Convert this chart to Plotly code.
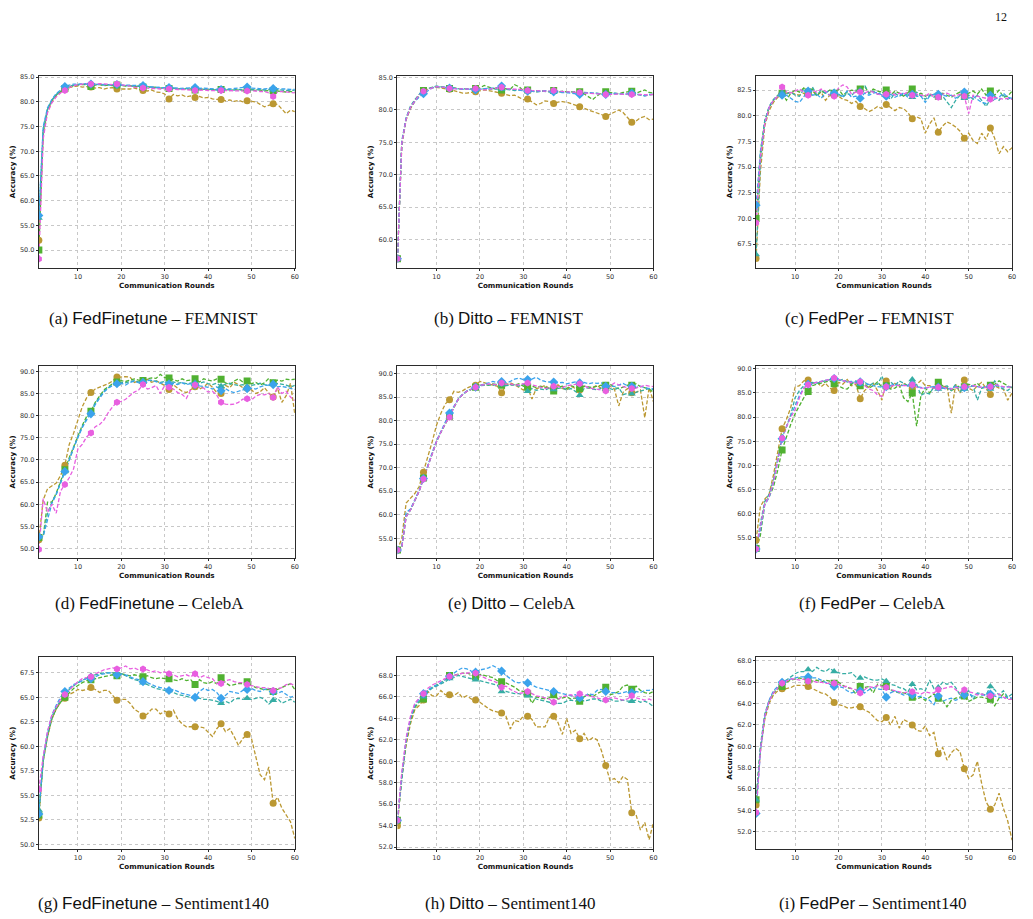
import plotly.graph_objects as go

rounds = list(range(1, 61))
x_ticks = [10, 20, 30, 40, 50, 60]

series_names = ["Method 1", "Method 2", "Method 3", "Method 4", "Method 5"]
series_colors = ["#bb9832", "#50b131", "#36ada4", "#3ba3ec", "#e85fe0"]
series_symbols = ["circle", "square", "triangle-up", "diamond", "hexagon"]

captions = [
    ("(a) ", "FedFinetune", " – FEMNIST"),
    ("(b) ", "Ditto", " – FEMNIST"),
    ("(c) ", "FedPer", " – FEMNIST"),
    ("(d) ", "FedFinetune", " – CelebA"),
    ("(e) ", "Ditto", " – CelebA"),
    ("(f) ", "FedPer", " – CelebA"),
    ("(g) ", "FedFinetune", " – Sentiment140"),
    ("(h) ", "Ditto", " – Sentiment140"),
    ("(i) ", "FedPer", " – Sentiment140"),
]

y_ranges = [[46.4, 85.3], [55.6, 85.3], [65.2, 83.9],
            [48.0, 91.1], [50.9, 91.5], [50.9, 90.5],
            [49.5, 69.1], [51.8, 69.7], [50.35, 68.35]]
y_dticks = [5, 5, 2.5, 5, 5, 5, 2.5, 2, 2]

# ---------------- (a) FedFinetune - FEMNIST ----------------
a_gold = [52.0, 73.0, 78.0, 80.0, 81.2, 82.0, 82.5, 82.9, 83.1, 83.2,
          83.0, 83.1, 83.0, 82.8, 82.9, 82.6, 82.8, 82.9, 82.6, 82.6,
          82.7, 82.6, 82.8, 82.5, 82.3, 82.2, 82.4, 82.0, 81.9, 81.6,
          80.6, 81.5, 81.2, 81.4, 81.0, 81.2, 80.9, 81.1, 80.8, 80.9,
          80.6, 80.5, 80.5, 80.2, 80.4, 80.1, 80.3, 80.0, 80.2, 80.1,
          80.0, 79.5, 79.0, 79.3, 79.6, 79.5, 78.6, 77.6, 78.3, 78.0]
a_green = [50.0, 74.0, 78.5, 80.3, 81.4, 82.1, 82.7, 83.1, 83.3, 83.4,
           83.5, 83.5, 83.1, 83.4, 83.5, 83.3, 83.4, 83.3, 83.4, 83.3,
           83.2, 83.3, 83.1, 83.2, 83.0, 83.1, 82.9, 83.0, 82.8, 82.9,
           82.7, 82.8, 82.6, 82.7, 82.5, 82.6, 82.4, 82.5, 82.6, 82.4,
           82.5, 82.3, 82.5, 82.4, 82.3, 82.5, 82.4, 82.3, 82.5, 82.4,
           82.3, 82.4, 82.2, 82.3, 82.3, 82.2, 82.1, 82.0, 82.1, 81.9]
a_teal = [56.5, 74.5, 78.5, 80.3, 81.5, 82.2, 82.8, 83.2, 83.4, 83.5,
          83.6, 83.6, 83.5, 83.6, 83.5, 83.4, 83.5, 83.4, 83.4, 83.3,
          83.3, 83.2, 83.2, 83.1, 83.1, 83.0, 82.9, 82.9, 82.8, 82.8,
          82.8, 82.7, 82.7, 82.6, 82.7, 82.6, 82.6, 82.5, 82.6, 82.5,
          82.5, 82.4, 82.5, 82.4, 82.5, 82.4, 82.5, 82.4, 82.6, 82.5,
          82.4, 82.5, 82.4, 82.5, 82.4, 82.5, 82.4, 82.3, 82.4, 82.3]
a_blue = [57.0, 75.0, 78.8, 80.5, 81.7, 82.5, 83.1, 83.4, 83.6, 83.6,
          83.7, 83.7, 83.6, 83.6, 83.5, 83.5, 83.4, 83.5, 83.5, 83.4,
          83.4, 83.3, 83.3, 83.3, 83.3, 83.1, 83.0, 83.0, 82.9, 82.9,
          82.9, 82.8, 82.8, 82.7, 82.8, 82.8, 82.9, 82.7, 82.8, 82.7,
          82.6, 82.6, 82.5, 82.7, 82.6, 82.7, 82.8, 82.8, 83.0, 82.8,
          82.7, 82.7, 82.6, 82.7, 82.7, 82.7, 82.6, 82.6, 82.5, 82.5]
a_magenta = [48.2, 72.5, 77.8, 79.8, 81.0, 81.8, 82.3, 82.9, 83.3, 83.5,
             83.6, 83.7, 83.6, 83.6, 83.7, 83.6, 83.6, 83.5, 83.6, 83.5,
             83.3, 83.2, 83.0, 82.9, 82.8, 82.8, 82.7, 82.7, 82.6, 82.7,
             82.6, 82.6, 82.5, 82.5, 82.5, 82.4, 82.3, 82.4, 82.4, 82.3,
             82.3, 82.2, 82.3, 82.3, 82.2, 82.3, 82.2, 82.2, 82.2, 82.2,
             82.2, 82.1, 82.1, 81.8, 81.1, 82.0, 82.1, 82.0, 81.9, 81.8]

# ---------------- (b) Ditto - FEMNIST ----------------
b_gold = [57.0, 74.5, 78.5, 80.2, 81.3, 82.2, 82.8, 83.2, 83.4, 83.5,
          83.4, 83.3, 83.2, 83.0, 82.8, 82.6, 82.6, 82.7, 82.8, 82.9,
          83.1, 83.0, 82.9, 82.8, 82.6, 82.4, 82.2, 82.3, 82.0, 81.6,
          81.7, 81.3, 80.8, 81.0, 81.4, 81.3, 81.0, 81.2, 81.3, 81.2,
          81.0, 80.8, 80.5, 80.3, 80.0, 79.8, 79.6, 79.3, 79.0, 79.3,
          79.7, 80.0, 79.6, 78.9, 78.1, 78.3, 78.8, 79.0, 78.5, 78.6]
b_green = [57.0, 75.0, 78.6, 80.4, 81.4, 82.4, 83.0, 83.3, 83.5, 83.6,
           83.6, 83.5, 83.3, 83.4, 83.3, 83.2, 83.3, 83.2, 83.3, 83.4,
           83.8, 83.5, 83.3, 83.4, 83.1, 83.3, 83.2, 83.9, 83.6, 83.0,
           83.1, 82.9, 82.8, 82.9, 83.0, 82.8, 83.0, 82.7, 82.9, 82.8,
           82.8, 82.7, 82.8, 82.5, 82.1, 81.6, 82.2, 82.6, 82.8, 82.7,
           82.6, 82.5, 82.7, 82.8, 82.9, 82.6, 82.8, 83.1, 82.7, 82.6]
b_teal = [57.0, 75.2, 78.8, 80.6, 81.6, 82.4, 82.9, 83.3, 83.5, 83.7,
          83.6, 83.5, 83.4, 83.4, 83.3, 83.3, 83.3, 83.2, 83.2, 83.3,
          83.3, 83.2, 83.2, 83.3, 83.2, 83.2, 83.1, 83.0, 83.1, 83.0,
          83.0, 82.9, 83.0, 82.9, 82.9, 82.8, 82.8, 82.9, 82.8, 82.7,
          82.8, 82.7, 82.6, 82.7, 82.6, 82.6, 82.6, 82.5, 82.6, 82.5,
          82.5, 82.5, 82.5, 82.4, 82.5, 82.4, 82.3, 82.2, 82.3, 82.4]
b_blue = [57.0, 75.0, 78.7, 80.4, 81.3, 82.0, 82.5, 83.0, 83.4, 83.6,
          83.6, 83.5, 83.4, 83.3, 83.3, 83.2, 83.2, 83.2, 83.1, 83.2,
          83.3, 83.3, 83.4, 83.5, 83.7, 83.3, 83.2, 83.1, 83.1, 83.0,
          82.9, 82.9, 82.8, 82.9, 83.0, 82.9, 82.8, 82.8, 82.7, 82.7,
          82.6, 82.5, 82.4, 82.6, 82.7, 82.6, 82.5, 82.4, 82.4, 82.5,
          82.6, 82.5, 82.4, 82.5, 82.6, 82.5, 82.3, 82.2, 82.4, 82.4]
b_magenta = [57.0, 74.8, 78.6, 80.4, 81.4, 82.3, 82.9, 83.2, 83.4, 83.6,
             83.6, 83.5, 83.3, 83.3, 83.3, 83.2, 83.3, 83.3, 83.3, 83.2,
             83.1, 83.2, 83.3, 83.4, 83.5, 83.3, 83.2, 83.2, 83.2, 83.1,
             83.0, 83.0, 83.0, 82.9, 82.9, 82.9, 83.0, 82.9, 82.8, 82.8,
             82.8, 82.7, 82.7, 82.6, 82.6, 82.5, 82.5, 82.5, 82.4, 82.4,
             82.4, 82.5, 82.4, 82.5, 82.4, 82.3, 82.4, 82.3, 82.3, 82.4]

# ---------------- (c) FedPer - FEMNIST ----------------
c_gold = [66.1, 74.5, 79.0, 80.5, 81.3, 81.8, 82.1, 82.2, 82.3, 82.1,
          82.0, 82.2, 82.1, 82.4, 82.0, 82.3, 81.5, 82.0, 82.0, 81.9,
          81.6, 81.5, 81.2, 81.4, 80.9, 80.7, 80.4, 80.6, 80.9, 80.7,
          81.1, 80.8, 80.5, 80.8, 80.7, 80.3, 79.7, 79.9, 79.7, 78.3,
          79.2, 79.8, 78.4, 79.0, 79.4, 79.2, 78.9, 78.5, 77.8, 78.3,
          77.6, 77.3, 78.3, 77.7, 78.8, 77.8, 76.3, 77.0, 76.5, 76.9]
c_green = [70.0, 76.5, 79.5, 80.8, 81.5, 82.0, 82.2, 81.5, 82.2, 82.5,
           82.3, 82.7, 82.3, 82.6, 81.9, 82.4, 82.2, 82.5, 82.2, 82.6,
           82.0, 82.3, 82.5, 82.4, 82.6, 82.9, 82.2, 82.6, 82.4, 82.3,
           82.5, 82.0, 82.4, 82.2, 81.9, 82.3, 82.6, 82.0, 82.2, 81.9,
           82.1, 82.0, 81.9, 82.2, 82.0, 81.8, 82.1, 82.3, 82.0, 82.2,
           82.4, 82.1, 82.6, 82.0, 82.4, 82.0, 82.5, 81.8, 81.9, 82.4]
c_teal = [66.5, 75.5, 79.5, 80.9, 81.6, 82.0, 82.3, 82.1, 82.3, 82.0,
          81.9, 82.6, 82.2, 82.8, 82.0, 82.5, 82.2, 82.0, 82.3, 82.1,
          81.8, 82.2, 81.9, 82.5, 82.5, 83.0, 82.2, 82.4, 82.1, 82.3,
          82.0, 81.6, 82.2, 81.9, 82.1, 82.0, 81.8, 82.3, 81.9, 81.6,
          82.0, 81.8, 82.1, 81.9, 81.4, 80.8, 81.5, 82.0, 81.7, 82.0,
          81.6, 82.0, 81.5, 80.9, 81.6, 81.9, 81.5, 82.0, 81.6, 81.8]
c_blue = [71.3, 76.5, 79.3, 80.8, 81.5, 81.9, 82.0, 82.0, 81.7, 81.4,
          81.3, 81.8, 82.4, 82.0, 82.1, 81.7, 82.2, 82.5, 82.2, 82.0,
          81.9, 82.4, 81.8, 81.9, 81.7, 82.2, 82.0, 82.2, 82.3, 82.0,
          81.9, 82.1, 81.8, 82.0, 82.2, 81.8, 82.1, 81.9, 81.9, 81.3,
          81.9, 82.1, 82.1, 82.0, 81.9, 82.0, 81.7, 82.0, 82.3, 81.7,
          81.9, 81.6, 81.3, 81.2, 82.0, 81.6, 81.8, 82.2, 81.8, 81.7]
c_magenta = [69.6, 76.0, 79.2, 80.8, 81.5, 81.9, 82.8, 82.3, 82.2, 82.4,
             82.6, 82.3, 82.0, 82.5, 82.3, 82.6, 82.4, 82.0, 81.9, 82.7,
             83.0, 82.8, 82.1, 82.3, 82.3, 82.2, 82.4, 82.3, 82.1, 82.0,
             82.1, 82.3, 82.0, 82.2, 82.1, 82.3, 82.0, 82.1, 82.0, 81.9,
             82.2, 81.8, 81.8, 82.1, 82.2, 82.0, 81.9, 82.1, 81.9, 80.2,
             82.0, 81.9, 81.8, 81.7, 81.6, 81.8, 81.7, 81.6, 81.7, 81.6]

# ---------------- (d) FedFinetune - CelebA ----------------
d_gold = [52.0, 61.0, 63.5, 64.2, 64.8, 66.5, 68.8, 73.5, 76.0, 79.0,
          82.0, 84.0, 85.2, 86.0, 86.4, 86.8, 87.2, 87.8, 88.7, 88.7,
          88.8, 88.7, 87.5, 87.8, 87.8, 88.2, 87.5, 87.9, 87.3, 86.8,
          85.9, 87.0, 86.2, 85.5, 85.2, 85.9, 86.5, 86.0, 86.5, 87.3,
          86.4, 85.2, 85.0, 86.8, 86.3, 87.5, 87.0, 86.3, 86.2, 85.8,
          85.0, 85.4, 86.3, 85.1, 84.2, 86.2, 83.0, 84.5, 87.3, 80.3]
d_green = [52.5, 52.7, 60.5, 60.5, 62.5, 65.0, 67.8, 70.5, 73.0, 75.5,
           77.8, 79.8, 81.0, 83.0, 84.5, 85.8, 86.5, 87.2, 87.6, 87.9,
           87.7, 88.0, 88.3, 88.0, 87.9, 88.3, 88.5, 88.4, 89.3, 88.6,
           88.5, 88.1, 87.8, 88.3, 87.9, 88.0, 88.3, 87.6, 88.3, 88.0,
           87.8, 88.3, 88.2, 87.4, 87.0, 87.8, 88.3, 87.6, 87.8, 87.2,
           87.5, 86.9, 87.4, 88.4, 87.4, 88.0, 87.8, 88.2, 88.1, 88.2]
d_teal = [52.6, 52.9, 58.0, 60.5, 62.3, 64.9, 67.6, 70.2, 72.9, 75.2,
          77.5, 79.3, 80.8, 82.8, 84.2, 85.5, 86.3, 86.9, 87.3, 87.5,
          87.4, 87.7, 87.9, 87.6, 87.7, 88.0, 87.9, 87.8, 87.5, 87.7,
          87.4, 87.6, 87.3, 87.5, 87.2, 87.4, 87.5, 87.3, 87.6, 87.2,
          87.0, 87.3, 86.6, 87.1, 87.3, 87.0, 86.8, 87.0, 86.5, 86.8,
          87.1, 87.3, 87.0, 86.8, 87.4, 87.2, 87.0, 86.9, 86.5, 86.8]
d_blue = [52.7, 52.8, 56.5, 60.2, 62.2, 64.7, 67.4, 70.0, 72.8, 75.0,
          77.3, 79.0, 80.4, 82.5, 84.0, 85.3, 86.2, 86.8, 87.2, 87.3,
          86.9, 87.5, 87.8, 87.4, 87.5, 87.9, 88.0, 87.7, 87.3, 87.6,
          87.1, 87.3, 87.0, 87.4, 87.0, 87.2, 86.9, 86.7, 86.6, 86.4,
          86.0, 86.5, 85.6, 86.1, 85.5, 85.2, 85.5, 85.8, 86.1, 86.2,
          86.0, 86.5, 86.8, 86.9, 87.0, 86.5, 86.6, 86.4, 86.2, 85.9]
d_magenta = [49.8, 61.3, 58.2, 60.0, 58.0, 63.0, 64.5, 66.0, 68.0, 72.5,
             73.5, 75.2, 76.1, 77.5, 78.0, 79.0, 80.7, 82.0, 83.0, 83.2,
             83.7, 84.5, 85.3, 85.8, 87.0, 86.0, 86.3, 86.8, 85.0, 86.8,
             86.4, 86.0, 85.2, 84.8, 83.9, 85.8, 86.9, 86.3, 86.2, 85.3,
             85.5, 84.6, 83.0, 82.6, 82.5, 82.6, 83.0, 83.7, 83.8, 83.5,
             84.4, 84.8, 84.7, 85.0, 84.1, 86.5, 85.0, 85.5, 84.2, 83.4]

# ---------------- (e) Ditto - CelebA ----------------
e_gold = [52.5, 55.0, 62.5, 63.5, 64.5, 66.0, 69.0, 72.0, 75.5, 79.0,
          81.5, 83.5, 84.4, 86.2, 86.0, 86.3, 86.9, 87.3, 87.5, 88.3,
          88.0, 87.8, 87.5, 87.3, 85.9, 87.5, 88.0, 87.6, 87.0, 86.5,
          87.0, 84.6, 86.8, 87.0, 87.5, 86.8, 87.0, 87.6, 86.8, 86.5,
          87.3, 86.8, 86.5, 87.3, 86.9, 87.0, 87.5, 86.8, 86.6, 87.3,
          86.7, 83.1, 86.0, 86.8, 85.9, 86.0, 86.5, 80.6, 87.0, 84.0]
e_green = [52.5, 53.0, 59.8, 61.0, 63.0, 65.0, 67.8, 70.5, 73.0, 75.5,
           77.5, 79.3, 80.9, 82.8, 84.5, 85.5, 86.2, 86.6, 87.1, 87.5,
           87.7, 87.5, 87.8, 87.6, 87.5, 87.8, 87.6, 87.5, 87.8, 87.3,
           87.1, 87.3, 87.0, 87.3, 87.1, 86.9, 86.3, 87.0, 87.3, 86.8,
           87.4, 87.1, 86.8, 87.3, 87.1, 87.0, 87.3, 87.5, 87.5, 87.8,
           87.0, 86.8, 87.1, 87.5, 87.5, 87.8, 87.2, 87.0, 86.7, 86.0]
e_teal = [52.5, 53.0, 59.5, 61.0, 63.0, 65.0, 67.7, 70.4, 73.0, 75.5,
          77.5, 79.3, 80.8, 82.8, 84.5, 85.5, 86.2, 86.6, 87.0, 87.4,
          87.5, 87.6, 87.5, 87.7, 87.6, 87.4, 87.5, 87.6, 87.3, 87.8,
          86.2, 86.8, 86.4, 86.7, 86.5, 86.9, 86.6, 86.8, 87.0, 86.5,
          86.8, 86.2, 85.4, 86.8, 87.0, 86.7, 86.5, 86.9, 86.7, 86.8,
          86.5, 87.0, 85.5, 85.8, 85.7, 86.0, 86.3, 86.5, 86.8, 86.5]
e_blue = [52.5, 53.2, 60.5, 61.2, 63.2, 65.2, 67.7, 70.6, 73.2, 75.7,
          77.8, 79.7, 81.6, 83.0, 84.6, 85.6, 86.3, 86.7, 87.1, 87.5,
          87.8, 88.0, 88.3, 88.0, 88.3, 88.0, 88.3, 88.8, 89.0, 88.7,
          88.7, 88.8, 89.2, 88.6, 88.3, 88.2, 88.2, 88.0, 88.1, 87.8,
          88.0, 88.2, 88.0, 88.1, 87.8, 88.0, 87.9, 88.0, 87.3, 87.5,
          87.2, 87.6, 87.9, 87.4, 87.3, 87.0, 87.3, 87.0, 86.8, 86.8]
e_magenta = [52.5, 53.0, 59.6, 61.0, 63.0, 65.0, 67.6, 70.4, 73.0, 75.5,
             77.5, 79.3, 80.7, 82.8, 84.5, 85.5, 86.2, 86.6, 87.1, 87.5,
             87.6, 87.8, 87.7, 87.6, 88.0, 87.7, 87.8, 87.5, 87.6, 87.8,
             88.0, 87.6, 87.3, 87.0, 86.8, 87.0, 87.3, 87.2, 87.0, 87.4,
             87.5, 87.7, 87.8, 87.4, 87.0, 86.8, 86.6, 86.5, 86.3, 87.3,
             88.0, 87.6, 87.2, 87.0, 86.8, 86.9, 87.2, 87.5, 87.3, 87.2]

# ---------------- (f) FedPer - CelebA ----------------
f_gold = [54.5, 61.5, 63.0, 64.0, 68.0, 73.0, 77.6, 79.5, 82.0, 86.2,
          86.5, 87.5, 87.7, 87.0, 87.3, 86.3, 87.0, 86.0, 85.5, 87.2,
          86.8, 87.8, 86.5, 86.8, 83.8, 85.5, 86.2, 87.0, 85.5, 83.5,
          87.5, 86.0, 87.0, 86.3, 87.0, 86.5, 86.0, 86.8, 87.6, 86.5,
          86.5, 86.0, 86.8, 86.2, 86.5, 80.8, 86.8, 85.0, 87.7, 86.0,
          85.5, 86.5, 87.2, 86.0, 84.7, 86.5, 86.0, 85.8, 83.5, 85.0]
f_green = [52.8, 55.5, 62.0, 63.5, 65.5, 69.0, 73.2, 76.0, 78.5, 80.7,
           82.5, 84.0, 85.3, 86.5, 86.8, 87.0, 87.3, 87.5, 86.9, 86.5,
           86.0, 85.8, 86.8, 87.3, 86.5, 86.8, 86.0, 86.5, 87.3, 86.2,
           86.5, 85.8, 86.0, 86.7, 84.0, 83.2, 85.0, 78.1, 84.5, 86.0,
           85.0, 86.3, 87.2, 86.5, 86.0, 85.5, 86.0, 86.5, 86.3, 86.8,
           86.5, 87.0, 86.0, 86.2, 86.6, 86.8, 87.5, 87.0, 86.5, 86.0]
f_teal = [52.5, 58.0, 62.5, 64.0, 67.0, 71.5, 75.8, 78.0, 80.5, 84.0,
          85.5, 86.5, 87.0, 87.2, 87.0, 87.3, 87.5, 87.7, 88.0, 87.5,
          87.8, 87.3, 87.0, 87.5, 86.8, 87.3, 86.5, 87.0, 86.8, 88.5,
          86.3, 87.3, 86.5, 87.5, 87.0, 86.5, 87.8, 86.8, 84.5, 85.0,
          84.8, 86.3, 85.8, 86.0, 86.5, 85.5, 86.8, 85.3, 85.8, 86.2,
          86.5, 83.5, 86.0, 86.5, 85.8, 87.5, 86.3, 85.8, 85.5, 86.3]
f_blue = [52.7, 56.5, 61.8, 63.3, 66.3, 71.0, 75.5, 78.0, 80.2, 82.5,
          84.5, 86.0, 86.8, 87.0, 87.2, 87.3, 87.5, 87.8, 88.0, 87.7,
          87.5, 87.3, 87.4, 87.2, 87.3, 87.0, 86.8, 86.5, 86.3, 86.2,
          86.3, 86.6, 86.8, 86.5, 86.6, 86.4, 86.7, 86.3, 86.2, 86.0,
          86.2, 86.3, 86.2, 86.0, 85.8, 86.0, 86.3, 86.2, 86.1, 86.4,
          86.5, 86.3, 86.1, 86.2, 86.3, 86.5, 86.4, 86.2, 86.3, 86.3]
f_magenta = [52.7, 57.0, 62.0, 63.5, 66.5, 71.0, 75.6, 78.0, 80.0, 81.5,
             84.0, 86.0, 86.7, 87.0, 87.2, 87.4, 87.5, 87.8, 88.1, 87.8,
             87.5, 87.3, 87.2, 87.0, 87.3, 86.5, 85.8, 85.5, 84.6, 84.3,
             86.3, 86.4, 86.6, 86.5, 86.5, 86.5, 86.7, 86.2, 86.0, 86.0,
             86.2, 86.0, 86.2, 86.2, 86.0, 85.8, 86.2, 86.0, 86.3, 86.2,
             86.5, 86.3, 86.2, 86.1, 86.3, 86.8, 86.5, 86.3, 86.2, 86.3]

# ---------------- (g) FedFinetune - Sentiment140 ----------------
g_gold = [52.7, 58.5, 61.0, 62.8, 63.8, 64.5, 64.9, 65.3, 65.5, 65.8,
          65.7, 65.8, 66.0, 65.8, 65.5, 65.7, 65.7, 65.2, 64.7, 64.8,
          64.8, 64.4, 63.8, 63.5, 63.1, 63.3, 63.8, 63.8, 63.3, 63.6,
          63.3, 63.7, 62.8, 62.3, 62.0, 62.0, 62.0, 62.0, 61.9, 61.4,
          61.0, 61.8, 62.3, 61.5, 61.8, 61.0, 60.1, 60.8, 61.2, 60.8,
          58.8, 57.1, 56.6, 57.9, 54.2, 54.8, 53.7, 53.0, 52.3, 50.6]
g_green = [53.0, 58.5, 61.0, 62.8, 63.8, 64.5, 65.0, 65.5, 65.9, 66.2,
           66.5, 66.7, 66.8, 66.9, 67.0, 67.1, 67.2, 67.3, 67.2, 67.4,
           67.3, 67.2, 67.3, 67.2, 67.1, 67.2, 67.0, 66.9, 67.0, 66.9,
           66.9, 66.8, 66.7, 66.9, 66.7, 66.8, 66.3, 66.8, 66.5, 66.4,
           66.6, 66.4, 67.0, 66.5, 66.2, 66.3, 66.4, 66.4, 66.6, 66.2,
           66.0, 65.9, 65.8, 65.8, 65.6, 65.8, 66.0, 66.2, 66.4, 65.8]
g_teal = [53.5, 58.5, 61.2, 63.0, 64.0, 64.7, 65.3, 65.8, 66.2, 66.5,
          66.7, 67.0, 67.2, 67.3, 67.4, 67.5, 67.5, 67.5, 67.4, 67.4,
          67.2, 67.0, 66.8, 66.7, 66.5, 66.3, 66.1, 65.9, 65.8, 65.7,
          65.7, 65.5, 65.3, 65.2, 65.1, 65.0, 65.0, 64.9, 64.8, 64.8,
          64.7, 64.6, 64.4, 64.6, 64.4, 64.8, 64.9, 64.8, 64.9, 64.8,
          64.9, 65.0, 64.8, 64.3, 64.7, 64.9, 64.4, 64.6, 64.8, 64.5]
g_blue = [53.1, 58.8, 61.5, 63.2, 64.2, 65.0, 65.6, 66.0, 66.3, 66.5,
          66.7, 66.9, 66.9, 67.1, 67.3, 67.4, 67.5, 67.5, 67.3, 67.4,
          67.3, 67.1, 66.9, 66.8, 66.6, 66.5, 66.3, 66.1, 66.0, 65.9,
          65.7, 65.8, 65.6, 65.4, 65.3, 65.2, 65.0, 65.6, 65.9, 65.7,
          65.8, 65.5, 64.9, 65.2, 65.6, 65.5, 65.4, 65.7, 65.8, 65.9,
          65.7, 65.6, 65.8, 65.9, 65.6, 65.4, 65.6, 65.3, 65.0, 65.2]
g_magenta = [55.6, 59.0, 61.5, 63.2, 64.0, 64.8, 65.3, 65.8, 66.2, 66.6,
             66.9, 67.0, 67.1, 67.4, 67.6, 67.8, 67.9, 68.0, 67.9, 68.0,
             68.2, 67.9, 68.0, 67.8, 67.9, 67.8, 67.6, 67.7, 67.5, 67.6,
             67.4, 67.3, 67.1, 67.2, 67.3, 67.1, 67.4, 67.0, 67.2, 67.0,
             66.9, 66.4, 66.4, 66.7, 66.8, 66.6, 66.5, 66.5, 66.3, 66.2,
             66.1, 66.0, 66.0, 65.9, 65.7, 65.9, 66.0, 66.3, 66.4, 66.2]

# ---------------- (h) Ditto - Sentiment140 ----------------
h_gold = [54.0, 58.5, 61.5, 63.5, 64.8, 65.2, 65.7, 66.5, 66.1, 66.1,
          66.6, 66.2, 66.2, 66.1, 66.4, 65.9, 66.1, 65.8, 65.7, 65.5,
          65.2, 64.9, 64.7, 64.6, 64.5, 64.2, 63.0, 63.8, 63.7, 64.2,
          64.2, 63.9, 63.2, 63.2, 63.2, 64.1, 64.2, 63.6, 62.5, 64.0,
          62.6, 62.9, 62.1, 62.6, 61.9, 62.2, 62.0, 61.0, 59.6, 58.2,
          58.4, 58.0, 58.6, 58.3, 55.2, 55.0, 53.6, 54.3, 52.7, 54.3]
h_green = [54.5, 58.5, 61.8, 63.8, 65.0, 65.5, 65.8, 66.6, 66.9, 67.1,
           67.3, 67.6, 68.0, 68.0, 68.1, 68.2, 68.2, 68.1, 67.9, 68.1,
           68.0, 67.9, 67.8, 67.5, 67.4, 67.3, 67.1, 66.9, 66.6, 66.5,
           66.3, 65.4, 66.0, 65.9, 65.8, 65.9, 66.2, 65.8, 65.9, 66.0,
           65.8, 65.9, 65.6, 66.0, 66.2, 66.0, 66.3, 66.5, 66.9, 66.2,
           66.3, 66.5, 67.0, 67.1, 66.7, 67.0, 66.6, 66.4, 66.3, 66.5]
h_teal = [54.5, 58.6, 62.0, 64.0, 65.1, 65.6, 66.0, 66.5, 66.8, 67.0,
          67.2, 67.4, 67.7, 67.8, 68.0, 67.9, 67.8, 67.7, 67.6, 67.5,
          67.4, 67.3, 67.2, 67.1, 66.5, 66.5, 66.4, 66.3, 66.3, 66.2,
          66.1, 66.0, 65.8, 65.7, 65.6, 65.5, 65.5, 65.4, 65.4, 65.6,
          65.7, 65.6, 65.8, 65.6, 65.7, 65.8, 65.8, 65.6, 65.7, 65.8,
          65.6, 65.6, 65.7, 65.6, 65.6, 65.7, 65.5, 65.6, 65.4, 65.1]
h_blue = [54.5, 58.8, 62.0, 64.0, 65.3, 65.8, 66.3, 66.6, 66.9, 67.1,
          67.3, 67.6, 67.9, 68.2, 68.5, 68.7, 68.6, 68.4, 68.3, 68.5,
          68.6, 68.7, 68.9, 68.7, 68.4, 68.0, 67.7, 67.4, 67.3, 67.4,
          67.3, 67.1, 66.9, 66.8, 66.7, 66.6, 66.5, 66.4, 66.3, 66.2,
          66.1, 66.2, 65.9, 66.0, 66.3, 66.2, 66.6, 66.7, 66.5, 66.4,
          66.4, 66.3, 66.4, 66.5, 66.4, 66.5, 66.4, 66.6, 66.6, 66.7]
h_magenta = [54.5, 59.0, 62.2, 64.2, 65.4, 65.9, 66.3, 66.8, 67.1, 67.3,
             67.5, 67.7, 67.9, 68.0, 68.1, 68.2, 68.2, 68.3, 68.2, 68.0,
             67.8, 67.6, 67.5, 67.3, 66.9, 67.0, 66.7, 66.5, 66.3, 66.4,
             66.5, 66.3, 66.1, 66.0, 65.9, 65.8, 65.5, 65.8, 66.0, 66.1,
             66.2, 66.0, 66.3, 66.2, 66.1, 66.0, 65.9, 65.8, 65.7, 65.9,
             65.9, 65.8, 65.7, 65.8, 66.1, 65.9, 65.8, 65.7, 65.8, 65.6]

# ---------------- (i) FedPer - Sentiment140 ----------------
i_gold = [54.5, 59.5, 62.5, 64.0, 64.8, 65.2, 65.4, 65.4, 65.5, 65.7,
          65.7, 65.7, 65.6, 65.4, 65.2, 65.0, 64.9, 64.6, 64.1, 63.9,
          63.8, 63.6, 63.6, 63.7, 63.7, 63.4, 63.2, 62.8, 62.4, 62.3,
          62.7, 62.0, 62.8, 61.7, 62.5, 62.3, 62.0, 61.5, 61.4, 61.9,
          61.0, 61.3, 59.3, 59.9, 58.7, 59.4, 59.8, 59.5, 57.9, 57.0,
          57.3, 58.6, 56.5, 54.8, 54.1, 54.5, 55.6, 54.2, 53.0, 51.2]
i_green = [55.0, 59.8, 62.8, 64.2, 65.0, 65.4, 65.6, 66.0, 66.2, 66.3,
           66.4, 66.3, 66.2, 66.1, 66.2, 66.0, 66.2, 66.1, 65.9, 66.0,
           65.7, 65.5, 65.4, 64.9, 65.6, 65.5, 65.6, 65.0, 65.8, 65.7,
           65.6, 65.3, 65.1, 65.0, 65.0, 64.9, 64.6, 64.4, 64.6, 64.3,
           64.6, 64.9, 64.5, 64.3, 63.7, 64.3, 64.5, 64.6, 64.7, 64.2,
           64.4, 64.6, 64.6, 64.5, 64.4, 63.8, 64.5, 64.9, 64.5, 64.4]
i_teal = [55.0, 60.0, 63.0, 64.3, 65.0, 65.5, 65.9, 66.2, 66.5, 66.8,
          67.0, 67.0, 67.2, 67.0, 67.4, 67.1, 67.0, 67.3, 67.0, 66.9,
          66.8, 66.8, 66.9, 66.5, 66.4, 66.5, 66.3, 66.2, 66.2, 66.3,
          66.1, 65.8, 65.7, 65.5, 65.4, 65.1, 65.8, 65.3, 65.4, 65.2,
          66.2, 65.4, 65.5, 66.0, 65.8, 66.0, 65.5, 64.8, 64.9, 65.2,
          64.4, 65.0, 64.9, 64.8, 65.6, 65.3, 64.8, 65.2, 64.6, 64.9]
i_blue = [53.7, 59.5, 62.8, 64.3, 65.2, 65.6, 66.0, 66.2, 66.3, 66.4,
          66.5, 66.5, 66.5, 66.4, 66.4, 66.2, 66.0, 65.8, 65.6, 65.6,
          65.5, 65.2, 65.0, 65.1, 65.2, 65.0, 65.3, 65.5, 65.4, 65.3,
          64.6, 65.0, 65.2, 65.0, 64.8, 64.9, 64.8, 64.6, 64.7, 64.5,
          64.3, 63.9, 64.7, 64.2, 64.4, 64.5, 64.3, 64.5, 64.8, 64.9,
          64.7, 64.9, 64.8, 64.8, 64.9, 64.7, 64.6, 64.5, 64.6, 64.5]
i_magenta = [53.8, 59.6, 62.8, 64.2, 65.0, 65.5, 65.9, 66.1, 66.3, 66.3,
             66.2, 66.3, 66.1, 66.1, 66.0, 66.0, 65.9, 65.9, 65.9, 65.8,
             65.6, 65.6, 65.4, 65.3, 65.0, 65.3, 65.6, 65.5, 65.7, 65.6,
             65.5, 65.3, 65.2, 65.1, 65.0, 65.1, 65.1, 65.0, 64.9, 65.1,
             65.0, 65.0, 65.3, 65.4, 65.5, 65.6, 65.3, 65.0, 65.3, 65.1,
             65.0, 64.8, 64.9, 64.7, 64.7, 64.8, 64.9, 64.6, 64.4, 64.4]

panels = [
    [a_gold, a_green, a_teal, a_blue, a_magenta],
    [b_gold, b_green, b_teal, b_blue, b_magenta],
    [c_gold, c_green, c_teal, c_blue, c_magenta],
    [d_gold, d_green, d_teal, d_blue, d_magenta],
    [e_gold, e_green, e_teal, e_blue, e_magenta],
    [f_gold, f_green, f_teal, f_blue, f_magenta],
    [g_gold, g_green, g_teal, g_blue, g_magenta],
    [h_gold, h_green, h_teal, h_blue, h_magenta],
    [i_gold, i_green, i_teal, i_blue, i_magenta],
]

W, H = 1033, 919
col_px = [(39, 296), (399, 656), (759, 1016)]
row_px = [(74, 267), (366, 558), (658, 851)]
caption_x = [[154, 510, 873], [150, 514, 876], [154, 512, 876]]
caption_y = [318, 604, 905]

fig = go.Figure()
annotations = []
font_family = "DejaVu Sans"
SERIF = "Liberation Serif"
SANS = "Liberation Sans"

for idx, data in enumerate(panels):
    r, c = divmod(idx, 3)
    ax = "" if idx == 0 else str(idx + 1)
    xref, yref = "x" + ax, "y" + ax
    for s, ys in enumerate(data):
        fig.add_trace(go.Scatter(
            x=rounds, y=ys, mode="lines", name=series_names[s],
            line=dict(color=series_colors[s], width=1.3, dash="4px,2px"),
            xaxis=xref, yaxis=yref, showlegend=False, hoverinfo="skip"))
    for s, ys in enumerate(data):
        fig.add_trace(go.Scatter(
            x=rounds[::6], y=ys[::6], mode="markers", name=series_names[s],
            marker=dict(color=series_colors[s], size=7, symbol=series_symbols[s],
                        line=dict(width=0)),
            xaxis=xref, yaxis=yref, showlegend=False))
    x0, x1 = col_px[c]
    y0, y1 = row_px[r]
    common = dict(showline=True, mirror=True, linecolor="#2b2b2b", linewidth=1.3,
                  showgrid=True, gridcolor="#c8c8c8", gridwidth=0.7, griddash="dot",
                  zeroline=False, ticks="outside", ticklen=2, tickcolor="#2b2b2b",
                  tickfont=dict(family=font_family, size=6.5, color="#333333"))
    fig.layout["xaxis" + ax] = dict(
        domain=[x0 / W, x1 / W], range=[1, 60], tickvals=x_ticks,
        anchor=yref,
        title=dict(text="<b>Communication Rounds</b>", standoff=2,
                   font=dict(family=font_family, size=7.2, color="#111111")),
        **common)
    fig.layout["yaxis" + ax] = dict(
        domain=[1 - y1 / H, 1 - y0 / H], range=y_ranges[idx],
        dtick=y_dticks[idx], tick0=0, tickformat=".1f", anchor=xref,
        title=dict(text="<b>Accuracy (%)</b>", standoff=3,
                   font=dict(family=font_family, size=7.2, color="#111111")),
        **common)
    p1, p2, p3 = captions[idx]
    annotations.append(dict(
        x=caption_x[r][c] / W, y=1 - caption_y[r] / H, xref="paper", yref="paper",
        xanchor="center", yanchor="middle", showarrow=False,
        text=(f'<span style="font-family:{SERIF}">{p1}</span>'
              f'<span style="font-family:{SANS}">{p2}</span>'
              f'<span style="font-family:{SERIF}">{p3}</span>'),
        font=dict(family=SERIF, size=17, color="#111111")))

annotations.append(dict(x=1013 / W, y=1 - 15 / H, xref="paper", yref="paper",
                        xanchor="right", yanchor="middle", showarrow=False, text="12",
                        font=dict(family=SERIF, size=12, color="#111111")))

fig.update_layout(width=W, height=H, margin=dict(l=0, r=0, t=0, b=0),
                  paper_bgcolor="white", plot_bgcolor="white",
                  annotations=annotations, showlegend=False)

fig.write_html("out.html")
